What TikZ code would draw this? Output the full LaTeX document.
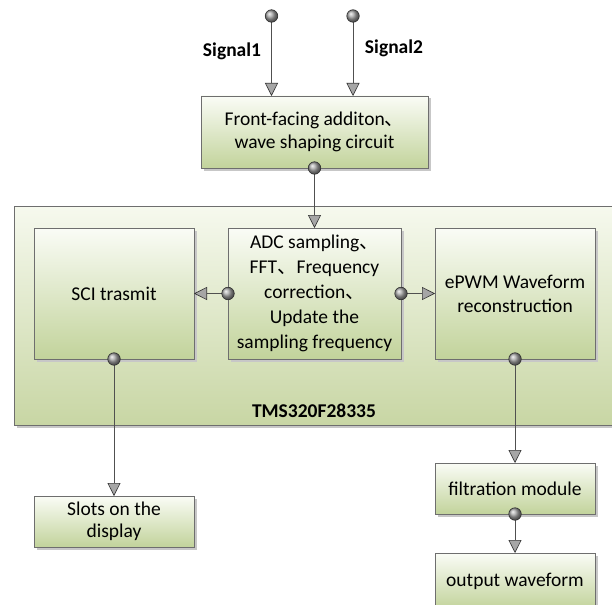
\documentclass[tikz,border=0pt]{standalone}
\usepackage{fontspec}
\setmainfont{Carlito}
\newfontfamily\cjk{Noto Sans CJK SC}
\newcommand{\dunhao}{{\cjk 、}}
\usetikzlibrary{arrows.meta,shadows}
\definecolor{boxtop}{RGB}{250,252,246}
\definecolor{boxbot}{RGB}{194,211,155}
\definecolor{bigtop}{RGB}{246,249,238}
\definecolor{bigbot}{RGB}{200,214,164}
\definecolor{edgec}{RGB}{110,110,110}
\definecolor{linec}{RGB}{80,80,80}
\tikzset{
  blk/.style={draw=edgec, line width=0.9pt, inner sep=0pt, outer sep=0pt,
    top color=boxtop, bottom color=boxbot, align=center,
    drop shadow={shadow xshift=2.5pt, shadow yshift=-2.5pt, fill=black!22, opacity=1},
    font=\fontsize{19.5}{23}\selectfont},
  bigblk/.style={draw=edgec, line width=0.9pt, inner sep=0pt, outer sep=0pt,
    top color=bigtop, bottom color=bigbot,
    drop shadow={shadow xshift=2.5pt, shadow yshift=-2.5pt, fill=black!22, opacity=1}},
  conn/.style={draw=linec, line width=1pt,
    -{Triangle[length=13pt,width=13pt,fill=gray!70,color=gray!40!black,line width=0.6pt]}},
  dot/.style={circle, inner sep=0pt, minimum size=12.5pt, draw=gray!35!black, line width=0.6pt,
    shading=ball, ball color=gray!70},
  lbl/.style={font=\bfseries\fontsize{19.5}{22}\selectfont, inner sep=0pt}
}
\begin{document}
\begin{tikzpicture}[x=1pt,y=-1pt]
\clip (0,0) rectangle (612,604);
\fill[white] (0,0) rectangle (612,604);
% big processor block
\node[bigblk, minimum width=606pt, minimum height=219pt] (tms) at (317,315.5) {};
\node[lbl] (tmslabel) at (314,411) {TMS320F28335};
% blocks
\node[blk, minimum width=227pt, minimum height=72pt] (front) at (314.5,132)
  {Front-facing additon\dunhao\\wave shaping circuit};
\node[blk, minimum width=173pt, minimum height=131pt, font=\fontsize{19.5}{25}\selectfont] (adc) at (314.5,293.5)
  {ADC sampling\dunhao\\FFT\dunhao Frequency\\correction\dunhao\\Update the\\sampling frequency};
\node[blk, minimum width=160pt, minimum height=131pt] (sci) at (114,293.5) {SCI trasmit};
\node[blk, minimum width=160pt, minimum height=131pt, font=\fontsize{19.5}{24}\selectfont] (epwm) at (515,293.5)
  {ePWM Waveform\\reconstruction};
\node[blk, minimum width=160pt, minimum height=51pt, font=\fontsize{19.5}{22}\selectfont] (slots) at (114,521.5)
  {Slots on the\\display};
\node[blk, minimum width=160pt, minimum height=51pt] (filt) at (515,488.5) {filtration module};
\node[blk, minimum width=160pt, minimum height=56pt] (out) at (515,581) {output waveform};
% signal inputs
\coordinate (s1) at (271.5,16);
\coordinate (s2) at (353,16);
\node[lbl] (sig1) at (232,51) {Signal1};
\node[lbl] (sig2) at (394,48) {Signal2};
% connectors
\draw[conn] (s1) -- (s1 |- front.north);
\draw[conn] (s2) -- (s2 |- front.north);
\draw[conn] (front.south) -- (adc.north);
\draw[conn] (adc.west) -- (sci.east);
\draw[conn] (adc.east) -- (epwm.west);
\draw[conn] (sci.south) -- (slots.north);
\draw[conn] (epwm.south) -- (filt.north);
\draw[conn] (filt.south) -- (out.north);
% start dots
\node[dot] (d1) at (s1) {};
\node[dot] (d2) at (s2) {};
\node[dot] (d3) at (front.south) {};
\node[dot] (d4) at (adc.west) {};
\node[dot] (d5) at (adc.east) {};
\node[dot] (d6) at (sci.south) {};
\node[dot] (d7) at (epwm.south) {};
\node[dot] (d8) at (filt.south) {};
\end{tikzpicture}
\end{document}
